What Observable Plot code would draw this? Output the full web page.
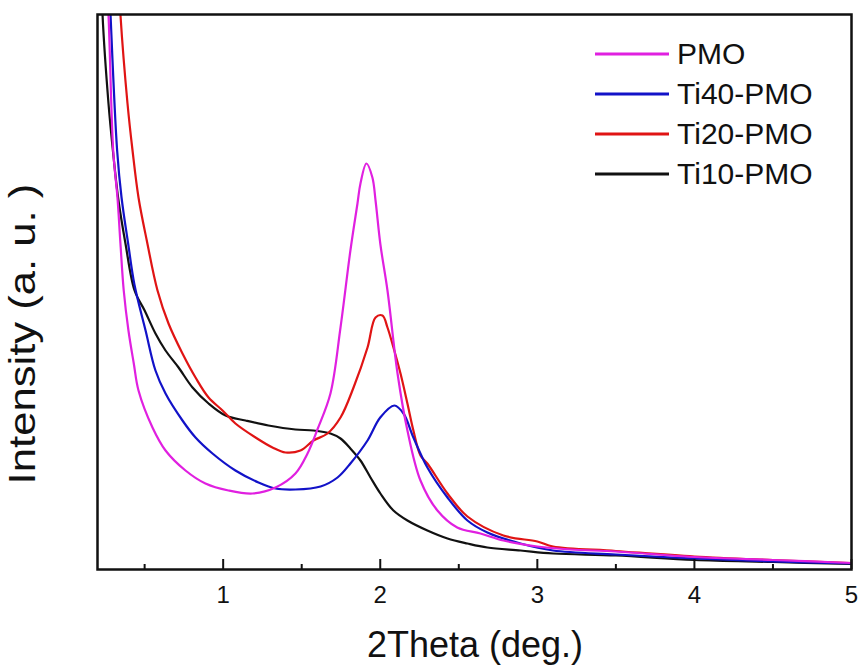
<!DOCTYPE html>
<html>
<head>
<meta charset="utf-8">
<script src="https://cdn.jsdelivr.net/npm/d3@7"></script>
<script src="https://cdn.jsdelivr.net/npm/@observablehq/plot@0.6"></script>
<style>
  body { margin: 0; background: #fff; }
  #wrap { position: relative; width: 862px; height: 668px; }
</style>
</head>
<body>
<div id="wrap"></div>
<script>
// Series (2Theta in deg., intensity in a.u.)
const seriesNames = ["PMO", "Ti40-PMO", "Ti20-PMO", "Ti10-PMO"];
const seriesColors = ["#e020e0", "#1212c8", "#e01414", "#111111"];

const pmo = [
  [0.24,650],[0.27,555],[0.30,419],[0.327,372],[0.346,326],[0.367,279],[0.397,239],[0.431,206],
  [0.461,179],[0.55,142],[0.633,119],[0.76,99],[0.887,86],[1.034,79],[1.187,76],[1.333,82],
  [1.46,96],[1.537,116],[1.60,140],[1.683,176],[1.747,242],[1.81,319],[1.855,366],[1.874,386],
  [1.912,406],[1.95,392],[1.97,369],[2.001,325],[2.046,279],[2.11,196],[2.173,139],[2.256,89],
  [2.364,59],[2.49,42],[2.638,36],[2.784,29],[3.0,23],[3.21,20],[3.5,18],[4.0,12.5],[4.5,9.5],[5.0,6.5]
];
const ti40 = [
  [0.26,650],[0.283,555],[0.325,419],[0.353,372],[0.395,326],[0.435,285],[0.506,239],[0.569,199],
  [0.633,176],[0.741,149],[0.824,132],[0.932,116],[1.078,99],[1.225,87],[1.333,81],[1.46,80],
  [1.62,83],[1.728,92],[1.81,106],[1.919,129],[2.0,152],[2.09,164],[2.148,156],[2.211,132],
  [2.30,102],[2.428,72],[2.555,49],[2.682,37],[2.893,26],[3.1,19],[3.5,15],[4.0,11],[4.5,8],[5.0,6]
];
const ti20 = [
  [0.32,640],[0.346,555],[0.391,466],[0.423,419],[0.461,372],[0.515,328],[0.582,279],[0.652,246],
  [0.741,216],[0.824,192],[0.907,172],[0.996,159],[1.078,146],[1.206,132],[1.314,122],[1.397,117],
  [1.492,119],[1.575,129],[1.664,136],[1.747,152],[1.83,182],[1.919,222],[1.97,252],[2.014,254],
  [2.046,242],[2.084,222],[2.129,196],[2.173,166],[2.211,139],[2.256,114],[2.30,106],[2.428,76],
  [2.555,53],[2.784,34],[3.0,28],[3.1,23],[3.5,18.5],[4.0,13],[4.5,9.5],[5.0,6.5]
];
const ti10 = [
  [0.215,650],[0.232,555],[0.27,466],[0.298,419],[0.331,372],[0.378,326],[0.436,279],[0.50,259],
  [0.569,236],[0.633,219],[0.716,202],[0.805,182],[0.907,166],[1.015,154],[1.142,149],[1.288,144],
  [1.46,140],[1.575,139],[1.683,136],[1.747,131],[1.81,121],[1.874,109],[1.938,92],[2.001,76],
  [2.084,59],[2.173,49],[2.30,39],[2.428,31],[2.555,26],[2.682,22],[2.893,19],[3.1,16],[3.5,14],
  [4.0,9.5],[4.5,7.5],[5.0,5.5]
];

const majorTicks = [1, 2, 3, 4, 5];
const minorTicks = [0.5, 1.5, 2.5, 3.5, 4.5];
const xLabel = "2Theta (deg.)";
const yLabel = "Intensity (a. u. )";

// Draw order: Ti10 bottom, PMO top
const drawOrder = [["Ti10-PMO", ti10], ["Ti20-PMO", ti20], ["Ti40-PMO", ti40], ["PMO", pmo]];
const rows = [];
for (const [name, arr] of drawOrder) for (const [x, y] of arr) rows.push({s: name, x, y});

const FONT = "Arial, 'Liberation Sans', Helvetica, sans-serif";
const plotH = 668 - 14 - 99;

const chart = Plot.plot({
  width: 862, height: 668,
  marginLeft: 97, marginRight: 11, marginTop: 14, marginBottom: 99,
  style: {fontFamily: FONT, fontSize: "24px", background: "white", color: "#111"},
  x: {domain: [0.2, 5], axis: null},
  y: {domain: [0, 555], axis: null},
  color: {domain: seriesNames, range: seriesColors},
  marks: [
    Plot.line(rows, {x: "x", y: "y", z: "s", stroke: "s", strokeWidth: 2.2, curve: "catmull-rom", clip: true}),
    Plot.tickX(minorTicks, {x: d => d, stroke: "#111", strokeWidth: 2, insetTop: plotH - 5}),
    Plot.tickX(majorTicks, {x: d => d, stroke: "#111", strokeWidth: 2, insetTop: plotH - 10}),
    Plot.text(majorTicks, {x: d => d, text: d => String(d), frameAnchor: "bottom", lineAnchor: "top",
      dy: 16, fontSize: 24, fill: "#111", fontFamily: FONT}),
    Plot.frame({stroke: "#111", strokeWidth: 2.5})
  ]
});

const svg = d3.select(chart);

svg.append("text")
  .attr("x", 475).attr("y", 657)
  .attr("text-anchor", "middle")
  .attr("font-family", FONT).attr("font-size", 36).attr("fill", "#111")
  .text(xLabel);
svg.append("text")
  .attr("transform", "translate(35,334) rotate(-90) scale(1.18,1)")
  .attr("text-anchor", "middle")
  .attr("font-family", FONT).attr("font-size", 37).attr("fill", "#111")
  .text(yLabel);

const leg = svg.append("g").attr("text-anchor", "start");
seriesNames.forEach((name, i) => {
  const cy = 54 + 40 * i;
  leg.append("line").attr("x1", 595).attr("x2", 669).attr("y1", cy).attr("y2", cy)
    .attr("stroke", seriesColors[i]).attr("stroke-width", 3);
  leg.append("text").attr("x", 677).attr("y", cy + 10)
    .attr("text-anchor", "start")
    .attr("font-family", FONT).attr("font-size", 30).attr("fill", "#111")
    .text(name);
});

document.getElementById("wrap").appendChild(chart);
</script>
</body>
</html>
